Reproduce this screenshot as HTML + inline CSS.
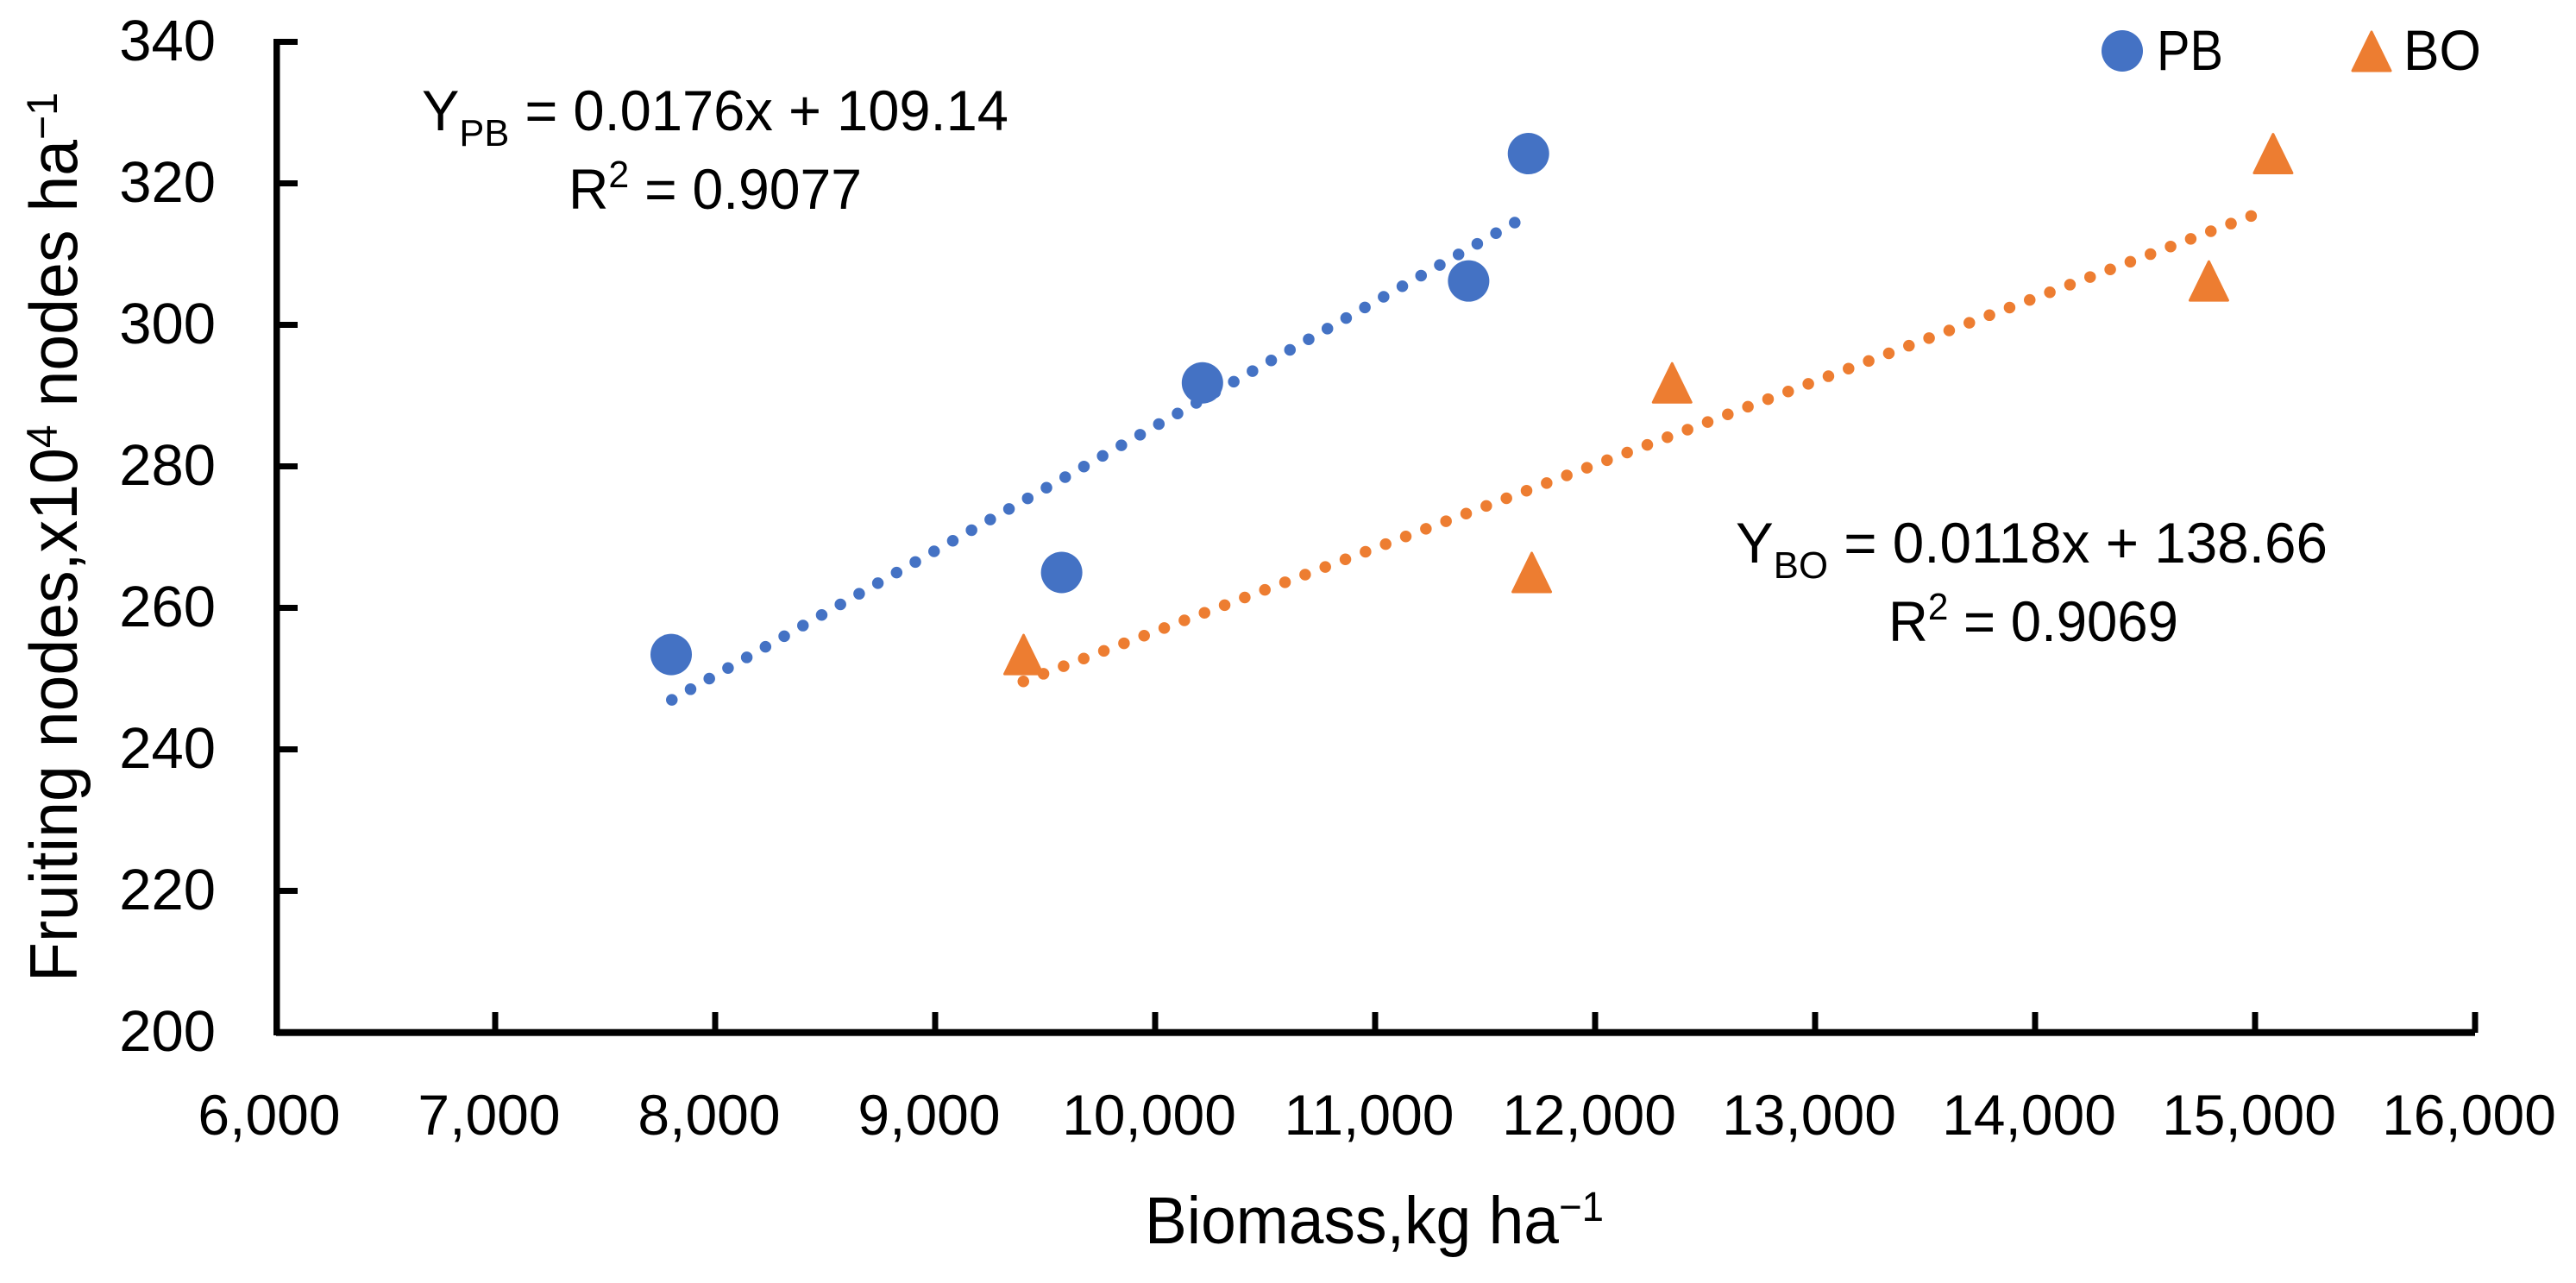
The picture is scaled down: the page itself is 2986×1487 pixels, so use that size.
<!DOCTYPE html>
<html lang="en">
<head>
<meta charset="utf-8">
<title>Fruiting nodes vs biomass</title>
<style>
  html, body { margin: 0; padding: 0; background: #ffffff; }
  svg { display: block; }
  text { font-family: "Liberation Sans", "DejaVu Sans", sans-serif; fill: #000000; }
</style>
</head>
<body>
<svg id="chart" xmlns="http://www.w3.org/2000/svg" width="2986" height="1487" viewBox="0 0 2986 1487">
  <rect x="0" y="0" width="2986" height="1487" fill="#ffffff"/>
  <g id="axes"></g>
  <g id="series"></g>

  <text transform="translate(89,1138) rotate(-90)" font-size="78" textLength="1031" lengthAdjust="spacingAndGlyphs">Fruiting nodes,x10<tspan font-size="50" dy="-23">4</tspan><tspan dy="23"> nodes ha</tspan><tspan font-size="50" dy="-23">−1</tspan></text>
  <text x="1327" y="1441" font-size="77" textLength="532" lengthAdjust="spacingAndGlyphs">Biomass,kg ha<tspan font-size="48" dy="-26">−1</tspan></text>

  <text x="489" y="151" font-size="66" textLength="680" lengthAdjust="spacingAndGlyphs">Y<tspan font-size="44" dy="18">PB</tspan><tspan dy="-18"> = 0.0176x + 109.14</tspan></text>
  <text x="659" y="242" font-size="66" textLength="340" lengthAdjust="spacingAndGlyphs">R<tspan font-size="44" dy="-25">2</tspan><tspan dy="25"> = 0.9077</tspan></text>
  <text x="2012" y="652" font-size="66" textLength="686" lengthAdjust="spacingAndGlyphs">Y<tspan font-size="44" dy="18">BO</tspan><tspan dy="-18"> = 0.0118x + 138.66</tspan></text>
  <text x="2189" y="743" font-size="66" textLength="336" lengthAdjust="spacingAndGlyphs">R<tspan font-size="44" dy="-25">2</tspan><tspan dy="25"> = 0.9069</tspan></text>

  <g>
    <circle cx="2460" cy="59" r="24" fill="#4472C4"/>
    <text x="2500" y="81" font-size="66" textLength="77" lengthAdjust="spacingAndGlyphs">PB</text>
    <polygon points="2749,37 2771,82 2727,82" fill="#ED7D31" stroke="#ED7D31" stroke-width="3" stroke-linejoin="round"/>
    <text x="2786" y="81" font-size="66" textLength="90" lengthAdjust="spacingAndGlyphs">BO</text>
  </g>
</svg>
<script>
const xTickValues = [6000, 7000, 8000, 9000, 10000, 11000, 12000, 13000, 14000, 15000, 16000];
const xTickLabels = ["6,000", "7,000", "8,000", "9,000", "10,000", "11,000", "12,000", "13,000", "14,000", "15,000", "16,000"];
const yTickValues = [200, 220, 240, 260, 280, 300, 320, 340];
const yTickLabels = ["200", "220", "240", "260", "280", "300", "320", "340"];

const pbBiomass = [7800, 9575, 10215, 11425, 11697];
const pbNodes = [253.4, 265, 291.8, 306.2, 324.2];
const boBiomass = [9402, 11712, 12350, 14790, 15082];
const boNodes = [253.4, 265, 291.8, 306.2, 324.2];

const pbTrendX = [7803, 11643];
const pbTrendY = [247, 314.6];
const boTrendX = [9401, 15000];
const boTrendY = [249.6, 315.6];

const NS = "http://www.w3.org/2000/svg";
const xDomain = [6000, 16000];
const yDomain = [200, 340];
const xRange = [319, 2869];
const yRange = [1196.5, 48.5];

function xScale(v) {
  return xRange[0] + (v - xDomain[0]) / (xDomain[1] - xDomain[0]) * (xRange[1] - xRange[0]);
}
function yScale(v) {
  return yRange[0] + (v - yDomain[0]) / (yDomain[1] - yDomain[0]) * (yRange[1] - yRange[0]);
}
function make(tag, parent, attrs) {
  const el = document.createElementNS(NS, tag);
  for (const k in attrs) el.setAttribute(k, attrs[k]);
  parent.appendChild(el);
  return el;
}

const axes = document.getElementById("axes");
const series = document.getElementById("series");

const yAxisLine = make("rect", axes, { x: 317, y: 45, width: 7.5, height: 1155, fill: "#000" });



const xAxisLine = make("rect", axes, { x: 320, y: 1192.7, width: 2549, height: 8, fill: "#000" });



xTickValues.forEach(function (v, i) {
  if (i > 0) {
    const tick = make("rect", axes, { x: xScale(v) - 3.5, y: 1173, width: 7, height: 24, fill: "#000" });
    
    
  }
  const label = make("text", axes, { x: xScale(v) - 7, y: 1315, "font-size": 66, "text-anchor": "middle" });
  label.textContent = xTickLabels[i];
  
  
});

yTickValues.forEach(function (v, i) {
  if (i > 0) {
    const tick = make("rect", axes, { x: 320, y: yScale(v) - 3.5, width: 25, height: 7, fill: "#000" });
    
    
  }
  const label = make("text", axes, { x: 250, y: yScale(v) + 21.5, "font-size": 67, "text-anchor": "end" });
  label.textContent = yTickLabels[i];
  
  
});

const pbTrend = make("line", series, {
  x1: xScale(pbTrendX[0]), y1: yScale(pbTrendY[0]), x2: xScale(pbTrendX[1]), y2: yScale(pbTrendY[1]),
  stroke: "#4472C4", "stroke-width": 13.5, "stroke-linecap": "round", "stroke-dasharray": "0 24.95"
});



const boTrend = make("line", series, {
  x1: xScale(boTrendX[0]), y1: yScale(boTrendY[0]), x2: xScale(boTrendX[1]), y2: yScale(boTrendY[1]),
  stroke: "#ED7D31", "stroke-width": 13.5, "stroke-linecap": "round", "stroke-dasharray": "0 24.95"
});



pbBiomass.forEach(function (v, i) {
  const pt = make("circle", series, { cx: xScale(v), cy: yScale(pbNodes[i]), r: 24, fill: "#4472C4" });
  
  
});

boBiomass.forEach(function (v, i) {
  const cx = xScale(v);
  const cy = yScale(boNodes[i]);
  const pts = [[cx, cy - 22.5], [cx + 22, cy + 22.5], [cx - 22, cy + 22.5]].map(function (p) { return p.join(","); }).join(" ");
  const pt = make("polygon", series, { points: pts, fill: "#ED7D31", stroke: "#ED7D31", "stroke-width": 3, "stroke-linejoin": "round" });
  
  
});
</script>
</body>
</html>
